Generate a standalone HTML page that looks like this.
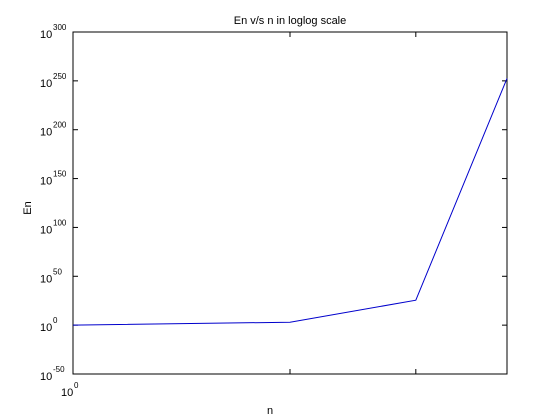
<!DOCTYPE html>
<html><head><meta charset="utf-8"><style>
body{margin:0;background:#fff;}
svg{display:block;font-family:"Liberation Sans",sans-serif;}
</style></head><body>
<svg id="chart" width="560" height="420"></svg>
<script>
const nValues=[1,10,38,100];
const enExponents=[0,3,25.5,252.5];
const yTickExps=[-50,0,50,100,150,200,250,300];
const xTickVals=[1,10,38];
const xTickLabels=["0",null,null];
const L=73,R=507,T=32,B=374;
const xMin=1,xMax=100,yMin=-50,yMax=300;
const NS="http://www.w3.org/2000/svg";
const svg=document.getElementById('chart');
function xs(v){return L+(Math.log10(v)-Math.log10(xMin))/(Math.log10(xMax)-Math.log10(xMin))*(R-L);}
function ys(e){return B-(e-yMin)/(yMax-yMin)*(B-T);}
function mk(t,a,p){const e=document.createElementNS(NS,t);for(const k in a)e.setAttribute(k,a[k]);(p||svg).appendChild(e);return e;}
const frame=mk('rect',{x:L,y:T,width:R-L,height:B-T,fill:'#fff',stroke:'#000','stroke-width':1});


yTickExps.forEach(e=>{
 const y=ys(e);
 const g=mk('g',{});
 
 
 mk('line',{x1:L,y1:y,x2:L+5,y2:y,stroke:'#000'},g);
 mk('line',{x1:R,y1:y,x2:R-5,y2:y,stroke:'#000'},g);
 const t=mk('text',{x:L-33,y:y+6,'font-size':11,fill:'#000'},g);
 t.textContent='10';
 const s=mk('text',{x:L-20,y:y-2,'font-size':8,fill:'#000'},g);
 s.textContent=String(e);
});
xTickVals.forEach((v,i)=>{
 const x=xs(v);
 const g=mk('g',{});
 
 
 mk('line',{x1:x,y1:B,x2:x,y2:B-5,stroke:'#000'},g);
 mk('line',{x1:x,y1:T,x2:x,y2:T+5,stroke:'#000'},g);
 if(xTickLabels[i]!==null){
  const t=mk('text',{x:x-12,y:B+22,'font-size':11,fill:'#000'},g);t.textContent='10';
  const s=mk('text',{x:x+1,y:B+14,'font-size':8,fill:'#000'},g);s.textContent=xTickLabels[i];
 }
});
const pts=nValues.map((n,i)=>xs(n)+','+ys(enExponents[i])).join(' ');
const line=mk('polyline',{points:pts,fill:'none',stroke:'#0000cc','stroke-width':1});


const title=mk('text',{x:290,y:24,'font-size':11,'text-anchor':'middle',fill:'#000'});
title.textContent='En v/s n in loglog scale';


const xl=mk('text',{x:270,y:414,'font-size':11,'text-anchor':'middle',fill:'#000'});
xl.textContent='n';


const yl=mk('text',{x:0,y:0,'font-size':11,'text-anchor':'middle',fill:'#000',transform:'translate(31,208) rotate(-90)'});
yl.textContent='En';


</script>
</body></html>
